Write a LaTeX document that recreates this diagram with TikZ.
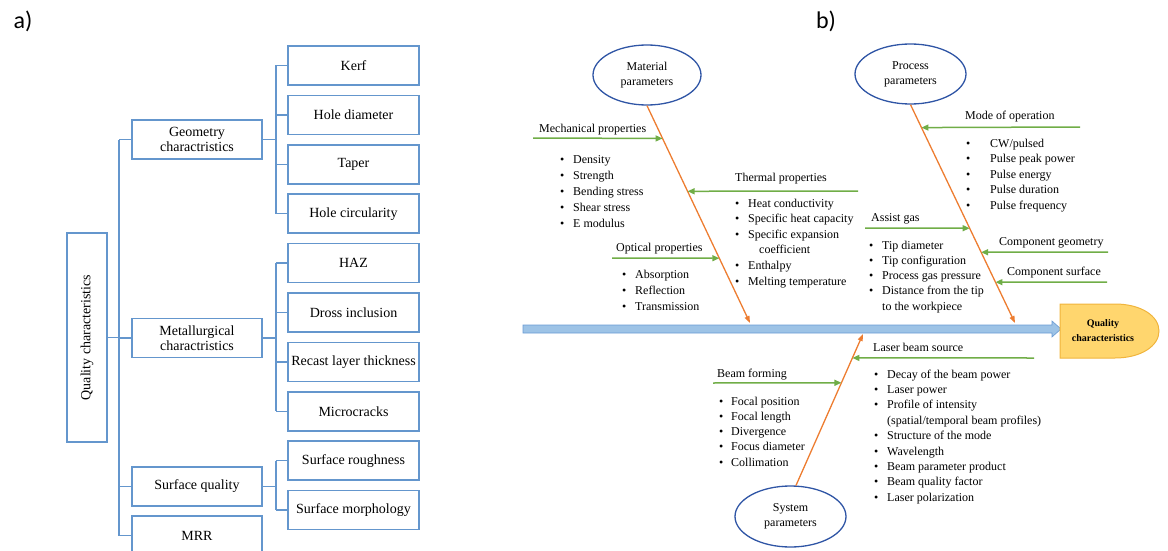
\documentclass[tikz,border=0pt]{standalone}
\usepackage{fontspec}
\setmainfont{Liberation Serif}
\newfontfamily\tagfont{Carlito}
\usepackage{xcolor}
\usepackage{tikz}
\usetikzlibrary{arrows.meta, positioning, shapes.geometric, calc}

\definecolor{treeblue}{RGB}{100,150,205}
\definecolor{ovalblue}{RGB}{47,85,165}
\definecolor{boneorange}{RGB}{237,125,49}
\definecolor{ribgreen}{RGB}{112,173,71}
\definecolor{spinefill}{RGB}{157,195,230}
\definecolor{spineline}{RGB}{105,155,212}
\definecolor{headfill}{RGB}{255,214,110}
\definecolor{headline}{RGB}{240,180,60}

% bullet list as a two column tabular, #1 = gap before the text
\newcommand{\bulletlist}[2]{\begin{tabular}[t]{@{}l@{\hspace{#1}}l@{}}#2\end{tabular}}

\tikzset{
  box/.style={draw=treeblue, line width=1.5pt, inner sep=0pt, align=center,
    minimum height=39pt, font=\fontsize{14}{14.5}\selectfont},
  group/.style={box, minimum width=130pt},
  leaf/.style={box, minimum width=131pt},
  link/.style={treeblue, line width=1.5pt},
  tag/.style={font=\tagfont\fontsize{24}{24}\selectfont, inner sep=0pt},
  oval/.style={ellipse, draw=ovalblue, line width=1.3pt, inner sep=0pt,
    minimum height=60pt, align=center, font=\fontsize{12}{15}\selectfont},
  bone/.style={boneorange, line width=1.3pt, -{Triangle[length=7pt,width=5pt]}},
  rib/.style={ribgreen, line width=1.5pt, -{Triangle[length=7pt,width=6pt]}},
  cause/.style={anchor=base west, inner sep=0pt, font=\fontsize{12}{15}\selectfont},
  list/.style={anchor=base west, inner sep=0pt, font=\fontsize{12}{15.5}\selectfont},
}

\begin{document}
\begin{tikzpicture}[x=1pt, y=-1pt]
\useasboundingbox (0,0) rectangle (1168,551);

%%% a) tree of quality characteristics
\node[tag] (taga) at (23,21) {a)};
\node[box, minimum width=40pt, minimum height=209pt] (root) at (87,337.5)
  {\rotatebox{90}{Quality characteristics}};

\node[group] (geo) at (197,139.5) {Geometry\\charactristics};
\node[group] (met) at (197,338) {Metallurgical\\charactristics};
\node[group] (surf) at (197,486.5) {Surface quality};
\node[group] (mrr) at (197,535.5) {MRR};

\node[leaf] (kerf) at (353.5,65.5) {Kerf};
\node[leaf, below=8.9pt of kerf] (hole) {Hole diameter};
\node[leaf, below=8.9pt of hole] (taper) {Taper};
\node[leaf, below=8.9pt of taper] (circ) {Hole circularity};
\node[leaf, below=8.9pt of circ] (haz) {HAZ};
\node[leaf, below=8.9pt of haz] (dross) {Dross inclusion};
\node[leaf, below=8.9pt of dross] (recast) {Recast layer thickness};
\node[leaf, below=8.9pt of recast] (crack) {Microcracks};
\node[leaf, below=8.9pt of crack] (rough) {Surface roughness};
\node[leaf, below=8.9pt of rough] (morph) {Surface morphology};

% bus lines
\coordinate (rbus) at (119,337.5);
\coordinate (lbus) at (276,337.5);

\draw[link] (root.east) -- (rbus);
\draw[link] (geo.west -| rbus) -- (mrr.west -| rbus);
\foreach \n in {geo,met,surf,mrr}
  \draw[link] (\n.west -| rbus) -- (\n.west);

\draw[link] (geo.east) -- (geo.east -| lbus);
\draw[link] (kerf.west -| lbus) -- (circ.west -| lbus);
\draw[link] (met.east) -- (met.east -| lbus);
\draw[link] (haz.west -| lbus) -- (crack.west -| lbus);
\draw[link] (surf.east) -- (surf.east -| lbus);
\draw[link] (rough.west -| lbus) -- (morph.west -| lbus);
\foreach \n in {kerf,hole,taper,circ,haz,dross,recast,crack,rough,morph}
  \draw[link] (\n.west -| lbus) -- (\n.west);

%%% b) fishbone
\node[tag] (tagb) at (826,21) {b)};

% spine and head
\filldraw[fill=spinefill, draw=spineline, line width=0.6pt]
  (523,325) -- (1052,325) -- (1052,321) -- (1061,329) -- (1052,337)
  -- (1052,333) -- (523,333) -- cycle;
\filldraw[fill=headfill, draw=headline, line width=1pt]
  (1060,304) -- (1115,304) .. controls (1141,304) and (1159,316) .. (1159,331)
  .. controls (1159,346) and (1141,358) .. (1115,358) -- (1060,358) -- cycle;
\node[font=\bfseries\fontsize{10}{15}\selectfont, align=center] (qc) at (1103,331)
  {Quality\\characteristics};

% main causes
\node[oval, minimum width=108pt] (mat) at (647,75) {Material\\parameters};
\node[oval, minimum width=111pt] (proc) at (910.5,74) {Process\\parameters};
\node[oval, minimum width=111pt, minimum height=61pt] (sys) at (790.5,516.5) {System\\parameters};

\coordinate (mattip) at (750,323);
\coordinate (proctip) at (1015,323);
\coordinate (systip) at (863,334);
\draw[bone] (mat.south) -- (mattip);
\draw[bone] (proc.south) -- (proctip);
\draw[bone] (sys.80) -- (systip);

% material ribs
\coordinate (mech) at (533,138);
\coordinate (mechhit) at ($(mat.south)!.151!(mattip)$);
\coordinate (therm) at (858,191);
\coordinate (thermhit) at ($(mat.south)!.394!(mattip)$);
\coordinate (opt) at (612,258);
\coordinate (opthit) at ($(mat.south)!.702!(mattip)$);
\draw[rib] (mech) -- (mechhit);
\draw[rib] (therm) -- (thermhit);
\draw[rib] (opt) -- (opthit);

\node[cause] (mechlbl) at (539,132) {Mechanical properties};
\node[cause] (thermlbl) at (735,181) {Thermal properties};
\node[cause] (optlbl) at (616,251) {Optical properties};

\node[list, font=\fontsize{12}{16.2}\selectfont] (mechlist) at (560,163) {\bulletlist{8.8pt}{%
  \textbullet & Density\\ \textbullet & Strength\\ \textbullet & Bending stress\\
  \textbullet & Shear stress\\ \textbullet & E modulus}};
\node[list, font=\fontsize{12}{15.6}\selectfont] (thermlist) at (735,207) {\bulletlist{8.8pt}{%
  \textbullet & Heat conductivity\\ \textbullet & Specific heat capacity\\
  \textbullet & Specific expansion\\ & \hspace{11pt}coefficient\\
  \textbullet & Enthalpy\\ \textbullet & Melting temperature}};
\node[list, font=\fontsize{12}{16}\selectfont] (optlist) at (622,278) {\bulletlist{8.8pt}{%
  \textbullet & Absorption\\ \textbullet & Reflection\\ \textbullet & Transmission}};

% process ribs
\coordinate (mode) at (1080,127);
\coordinate (modehit) at ($(proc.south)!.105!(proctip)$);
\coordinate (gas) at (865,228);
\coordinate (gashit) at ($(proc.south)!.566!(proctip)$);
\coordinate (geom) at (1108,252);
\coordinate (geomhit) at ($(proc.south)!.676!(proctip)$);
\coordinate (csurf) at (1107,282);
\coordinate (csurfhit) at ($(proc.south)!.813!(proctip)$);
\draw[rib] (mode) -- (modehit);
\draw[rib] (gas) -- (gashit);
\draw[rib] (geom) -- (geomhit);
\draw[rib] (csurf) -- (csurfhit);

\node[cause] (modelbl) at (965,120) {Mode of operation};
\node[cause] (gaslbl) at (871,221) {Assist gas};
\node[cause] (geomlbl) at (999,245) {Component geometry};
\node[cause] (csurflbl) at (1007,275) {Component surface};

\node[list] (modelist) at (966,147) {\bulletlist{19.8pt}{%
  \textbullet & CW/pulsed\\ \textbullet & Pulse peak power\\ \textbullet & Pulse energy\\
  \textbullet & Pulse duration\\ \textbullet & Pulse frequency}};
\node[list, font=\fontsize{12}{15.25}\selectfont] (gaslist) at (869,249) {\bulletlist{8.8pt}{%
  \textbullet & Tip diameter\\ \textbullet & Tip configuration\\
  \textbullet & Process gas pressure\\ \textbullet & Distance from the tip\\
  & to the workpiece}};

% system ribs
\coordinate (laser) at (1034,358);
\coordinate (laserhit) at ($(sys.80)!.842!(systip)$);
\coordinate (form) at (713,383);
\coordinate (formhit) at ($(sys.80)!.678!(systip)$);
\draw[rib] (laser) -- (laserhit);
\draw[rib] (form) -- (formhit);

\node[cause] (laserlbl) at (873,351) {Laser beam source};
\node[cause] (formlbl) at (717,377) {Beam forming};

\node[list, font=\fontsize{12}{15.25}\selectfont] (formlist) at (719,405) {\bulletlist{7.8pt}{%
  \textbullet & Focal position\\ \textbullet & Focal length\\ \textbullet & Divergence\\
  \textbullet & Focus diameter\\ \textbullet & Collimation}};
\node[list, font=\fontsize{12}{15.4}\selectfont] (laserlist) at (874,378) {\bulletlist{8.8pt}{%
  \textbullet & Decay of the beam power\\ \textbullet & Laser power\\
  \textbullet & Profile of intensity\\ & (spatial/temporal beam profiles)\\
  \textbullet & Structure of the mode\\ \textbullet & Wavelength\\
  \textbullet & Beam parameter product\\ \textbullet & Beam quality factor\\
  \textbullet & Laser polarization}};
\end{tikzpicture}
\end{document}
